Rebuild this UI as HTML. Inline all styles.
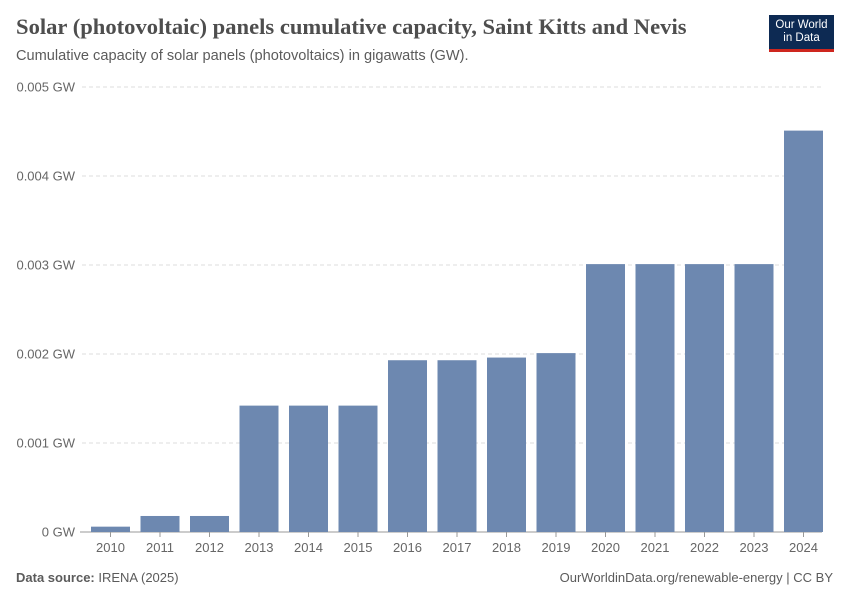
<!DOCTYPE html>
<html><head><meta charset="utf-8"><style>
body{margin:0;width:850px;height:600px;background:#fff;font-family:"Liberation Sans",sans-serif;position:relative;overflow:hidden}
.t{position:absolute;white-space:nowrap}
</style></head><body>
<div class="t" style="left:16px;top:14px;font-family:'Liberation Serif',serif;font-size:22.6px;color:#4e4e4e;font-weight:bold">Solar (photovoltaic) panels cumulative capacity, Saint Kitts and Nevis</div>
<div class="t" style="left:16px;top:48px;font-size:14.6px;color:#5b5b5b">Cumulative capacity of solar panels (photovoltaics) in gigawatts (GW).</div>
<div style="position:absolute;left:769px;top:15px;width:65px;height:37px;background:#0d2a53;border-bottom:3px solid #ce261e;box-sizing:border-box;color:#fff;font-size:11.5px;line-height:13px;text-align:center;padding-top:4px">Our World<br>in Data</div>
<svg id="c" width="850" height="600" style="position:absolute;left:0;top:0"></svg>
<div class="t" style="left:16px;top:570px;font-size:13px;color:#5b5b5b"><b>Data source:</b> IRENA (2025)</div>
<div class="t" style="right:17px;top:570px;font-size:13px;color:#5b5b5b">OurWorldinData.org/renewable-energy | CC BY</div>
<script>
const years=["2010","2011","2012","2013","2014","2015","2016","2017","2018","2019","2020","2021","2022","2023","2024"];
const values=[0.00006,0.00018,0.00018,0.00142,0.00142,0.00142,0.00193,0.00193,0.00196,0.00201,0.00301,0.00301,0.00301,0.00301,0.00451];
const ticks=[0,0.001,0.002,0.003,0.004,0.005];
const tickLabels=["0 GW","0.001 GW","0.002 GW","0.003 GW","0.004 GW","0.005 GW"];
const svg=document.getElementById('c');const NS='http://www.w3.org/2000/svg';
const y0=532,y1=87,x0=86,step=49.5,bw=39;
const y=v=>y0-(v/0.005)*(y0-y1);
const xc=i=>x0+24.5+i*step;
function mk(t,a){const e=document.createElementNS(NS,t);for(const k in a)e.setAttribute(k,a[k]);svg.appendChild(e);return e;}
ticks.forEach((t,i)=>{
 if(i>0){const l=mk('line',{x1:82,x2:822,y1:y(t),y2:y(t),stroke:'#ddd','stroke-dasharray':'4,3'});
 
 }
 const tx=mk('text',{x:75,y:y(t)+4.5,'text-anchor':'end','font-size':13,fill:'#666','font-family':'Liberation Sans'});tx.textContent=tickLabels[i];
 
 
});
const ax=mk('line',{x1:80,x2:822,y1:y0,y2:y0,stroke:'#999'});


years.forEach((yr,i)=>{
 const r=mk('rect',{x:xc(i)-bw/2,y:y(values[i]),width:bw,height:y0-y(values[i]),fill:'#6d88b0'});
 
 
 mk('line',{x1:xc(i),x2:xc(i),y1:y0,y2:y0+5,stroke:'#999'});
 const t=mk('text',{x:xc(i),y:y0+20,'text-anchor':'middle','font-size':13,fill:'#666','font-family':'Liberation Sans'});t.textContent=yr;
 
 
});
</script>
</body></html>
